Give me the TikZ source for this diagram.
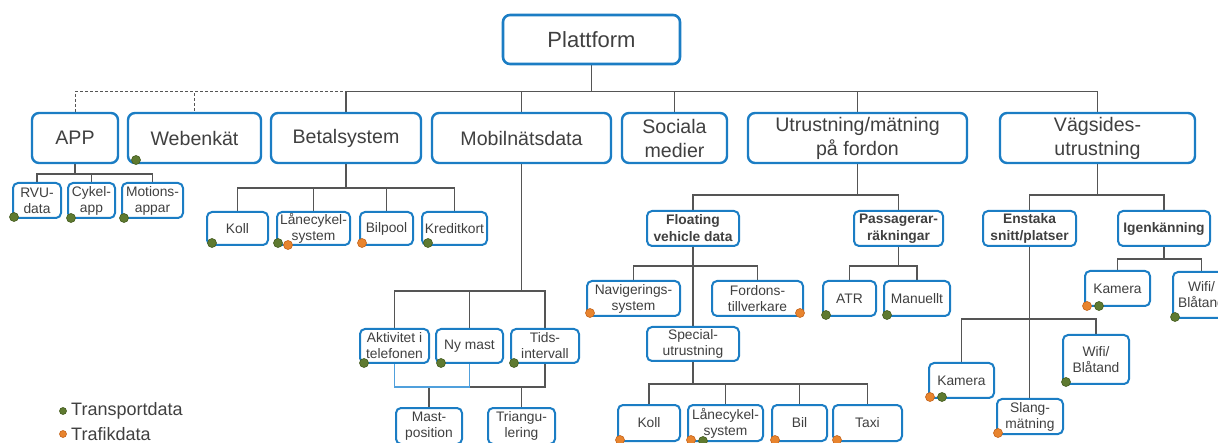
\documentclass[tikz,border=0pt]{standalone}
\usepackage{fontspec}
\setmainfont{Liberation Sans}
\usetikzlibrary{backgrounds}
\definecolor{bblue}{RGB}{27,125,196}
\definecolor{lgray}{RGB}{85,85,85}
\definecolor{lblue}{RGB}{80,160,220}
\definecolor{txt}{RGB}{64,64,64}
\definecolor{dgreen}{RGB}{95,122,48}
\definecolor{dgreenb}{RGB}{68,92,32}
\definecolor{dorange}{RGB}{232,132,46}
\definecolor{dorangeb}{RGB}{196,100,28}
\tikzset{
  bb/.style={draw=bblue, line width=2.4pt, rounded corners=7pt, fill=white, text=txt, align=center, inner sep=0pt, font=\fontsize{19.6}{24}\selectfont},
  pb/.style={bb, line width=2.6pt, font=\fontsize{22}{26}\selectfont},
  sb/.style={draw=bblue, line width=2pt, rounded corners=5pt, fill=white, text=txt, align=center, inner sep=0pt, font=\fontsize{13.8}{16}\selectfont},
  sbb/.style={sb, font=\fontsize{13.8}{17}\bfseries\selectfont},
  conn/.style={draw=lgray, line width=1.4pt},
  dconn/.style={draw=lgray, line width=1pt, dash pattern=on 3pt off 2pt},
  bconn/.style={draw=lblue, line width=1.4pt},
  gdot/.style={fill=dgreen, draw=dgreenb, line width=0.6pt},
  odot/.style={fill=dorange, draw=dorangeb, line width=0.6pt},
  legtext/.style={anchor=west, text=txt, inner sep=0pt, font=\fontsize{18}{21}\selectfont}
}
\newcommand{\BX}[7]{\node[#1, minimum width={(#5)-(#3)}, minimum height={(#6)-(#4)}] (#2) at ({(#3+#5)/2},{(#4+#6)/2}) {#7};}
\newcommand{\GD}[2]{\filldraw[gdot] (#1,#2) circle (4.5pt);}
\newcommand{\OD}[2]{\filldraw[odot] (#1,#2) circle (4.5pt);}
\begin{document}
\begin{tikzpicture}[x=1pt,y=-1pt]
\useasboundingbox (0,0) rectangle (1218,443);
\clip (0,0) rectangle (1218,443);
% top
\BX{pb}{plat}{503}{15}{680}{64}{Plattform}
% level 1
\BX{bb}{app}{32}{113}{118}{163}{APP}
\BX{bb}{web}{128}{113}{261}{163}{Webenkät}
\BX{bb}{betal}{271}{113}{421}{163}{Betalsystem}
\BX{bb}{mobil}{432}{113}{611}{163}{Mobilnätsdata}
\BX{bb}{soc}{622}{113}{727}{163}{Sociala\\medier}
\BX{bb}{utr}{748}{113}{967}{163}{Utrustning/mätning\\på fordon}
\BX{bb}{vag}{1000}{113}{1195}{163}{Vägsides-\\utrustning}
% APP children
\BX{sb}{rvu}{13}{183}{61}{218}{RVU-\\data}
\BX{sb}{cykel}{68}{183}{115}{218}{Cykel-\\app}
\BX{sb}{motions}{122}{183}{183}{218}{Motions-\\appar}
% Betalsystem children
\BX{sb}{koll}{207}{212}{268}{245}{Koll}
\BX{sb}{lane}{277}{212}{350}{245}{Lånecykel-\\system}
\BX{sb}{bilpool}{360}{212}{413}{245}{Bilpool}
\BX{sb}{kredit}{422}{212}{487}{245}{Kreditkort}
% Mobilnätsdata children
\BX{sb}{akt}{360}{329}{429}{363}{Aktivitet i\\telefonen}
\BX{sb}{nymast}{436}{329}{503}{363}{Ny mast}
\BX{sb}{tids}{511}{329}{579}{363}{Tids-\\intervall}
\BX{sb}{mast}{396}{408}{462}{444}{Mast-\\position}
\BX{sb}{tri}{488}{408}{555}{444}{Triangu-\\lering}
% Utrustning children
\BX{sbb}{float}{647}{211}{739}{246}{Floating\\vehicle data}
\BX{sbb}{pass}{854}{211}{943}{246}{Passagerar-\\räkningar}
\BX{sb}{navig}{587}{281}{680}{316}{Navigerings-\\system}
\BX{sb}{fordons}{712}{281}{803}{316}{Fordons-\\tillverkare}
\BX{sb}{atr}{823}{281}{876}{316}{ATR}
\BX{sb}{manu}{884}{281}{950}{316}{Manuellt}
\BX{sb}{special}{647}{327}{739}{361}{Special-\\utrustning}
\BX{sb}{kollb}{618}{405}{680}{441}{Koll}
\BX{sb}{laneb}{688}{405}{763}{441}{Lånecykel-\\system}
\BX{sb}{bil}{772}{405}{827}{441}{Bil}
\BX{sb}{taxi}{833}{405}{902}{441}{Taxi}
% Vagsides children
\BX{sbb}{enst}{983}{211}{1076}{246}{Enstaka\\snitt/platser}
\BX{sbb}{igen}{1118}{211}{1210}{246}{Igenkänning}
\BX{sb}{kam}{929}{363}{994}{398}{Kamera}
\BX{sb}{slang}{997}{399}{1063}{434}{Slang-\\mätning}
\BX{sb}{wifi}{1063}{335}{1129}{384}{Wifi/\\Blåtand}
\BX{sb}{kamb}{1085}{271}{1150}{306}{Kamera}
\BX{sb}{wifib}{1173}{272}{1230}{318}{Wifi/\\Blåtand}
% legend
\node[legtext] (leg1) at (71,411) {Transportdata};
\node[legtext] (leg2) at (71,434) {Trafikdata};
% connectors
\begin{pgfonlayer}{background}
\draw[dconn] (plat.south) -- ++(0,26) -| (app.north);
\draw[dconn] (plat.south) -- ++(0,26) -| (web.north);
\foreach \c in {betal,mobil,soc,utr,vag}
  \draw[conn] (plat.south) -- ++(0,26) -| (\c.north);
\foreach \c in {rvu,cykel,motions}
  \draw[conn] (app.south) -- ++(0,10) -| (\c.north);
\foreach \c in {koll,lane,bilpool,kredit}
  \draw[conn] (betal.south) -- ++(0,24) -| (\c.north);
\foreach \c in {akt,nymast,tids}
  \draw[conn] (mobil.south) -- ++(0,127) -| (\c.north);
\draw[conn] (tids.south) -- ++(0,23) -| (mast.north);
\draw[conn] (tids.south) -- ++(0,23) -| (tri.north);
\draw[bconn] (akt.south) -- ++(0,23) -| (nymast.south);
\foreach \c in {float,pass}
  \draw[conn] (utr.south) -- ++(0,31) -| (\c.north);
\draw[conn] (float.south) -- (special.north);
\foreach \c in {navig,fordons}
  \draw[conn] (float.south) -- ++(0,19) -| (\c.north);
\foreach \c in {atr,manu}
  \draw[conn] (pass.south) -- ++(0,19) -| (\c.north);
\foreach \c in {kollb,laneb,bil,taxi}
  \draw[conn] (special.south) -- ++(0,22) -| (\c.north);
\foreach \c in {enst,igen}
  \draw[conn] (vag.south) -- ++(0,31) -| (\c.north);
\draw[conn] (enst.south) -- (enst.south |- slang.north);
\foreach \c in {kam,wifi}
  \draw[conn] (enst.south) -- ++(0,72) -| (\c.north);
\foreach \c in {kamb,wifib}
  \draw[conn] (igen.south) -- ++(0,12) -| (\c.north);
\end{pgfonlayer}
% dots
\GD{136}{160}
\GD{14}{217}\GD{71}{218}\GD{124}{218}
\GD{212}{243}\GD{278}{243}\OD{288}{245}\OD{362}{243}\GD{428}{243}
\GD{364}{363}\GD{441}{363}\GD{514}{363}
\OD{590}{313}\OD{800}{313}
\GD{826}{315}\GD{887}{315}
\OD{620}{440}\OD{691}{440}\GD{703}{441}\OD{775}{440}\OD{837}{440}
\OD{930}{397}\GD{942}{397}\OD{998}{433}\GD{1066}{382}
\OD{1087}{306}\GD{1099}{306}\GD{1175}{317}
\filldraw[gdot] (63,411) circle (3.5pt);
\filldraw[odot] (63,434) circle (3.5pt);
\end{tikzpicture}
\end{document}
